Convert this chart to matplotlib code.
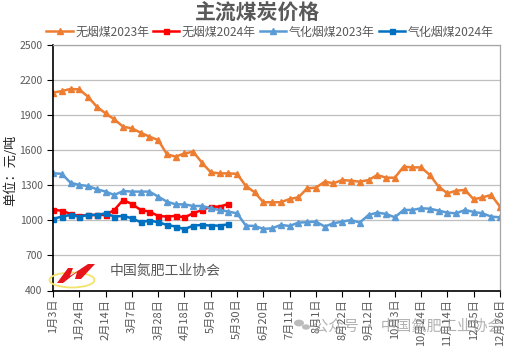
import matplotlib
matplotlib.use("Agg")
import matplotlib.pyplot as plt
from matplotlib.patches import Ellipse, Polygon, Circle

plt.rcParams['font.family'] = ['Noto Sans CJK SC', 'DejaVu Sans']

title = "主流煤炭价格"
ylabel = "单位：元/吨"
tick_labels = ["1月3日", "1月24日", "2月14日", "3月7日", "3月28日", "4月18日", "5月9日",
               "5月30日", "6月20日", "7月11日", "8月1日", "8月22日", "9月12日", "10月3日",
               "10月24日", "11月14日", "12月5日", "12月26日"]
series_names = ["无烟煤2023年", "无烟煤2024年", "气化烟煤2023年", "气化烟煤2024年"]

anthracite_2023 = [2092, 2106, 2124, 2120, 2057, 1972, 1915, 1864, 1801, 1787,
                   1750, 1716, 1687, 1565, 1545, 1573, 1587, 1493, 1411, 1402,
                   1402, 1398, 1294, 1240, 1155, 1155, 1155, 1183, 1197, 1274,
                   1280, 1331, 1317, 1345, 1339, 1331, 1345, 1388, 1365, 1365,
                   1459, 1453, 1453, 1388, 1288, 1231, 1254, 1260, 1180, 1197,
                   1217, 1117]
anthracite_2024 = [1089, 1083, 1055, 1038, 1046, 1046, 1046, 1089, 1174, 1140,
                   1089, 1075, 1038, 1032, 1038, 1026, 1060, 1089, 1117, 1117,
                   1140]
gas_2023 = [1403, 1398, 1322, 1303, 1294, 1266, 1246, 1217, 1251, 1246,
            1246, 1246, 1203, 1160, 1137, 1137, 1123, 1123, 1103, 1089,
            1075, 1060, 955, 952, 927, 932, 961, 952, 981, 984,
            989, 947, 975, 989, 1003, 981, 1046, 1066, 1055, 1026,
            1089, 1089, 1103, 1100, 1083, 1066, 1060, 1089, 1072, 1060,
            1032, 1026]
gas_2024 = [1012, 1032, 1046, 1032, 1046, 1046, 1060, 1032, 1038, 1018,
            984, 998, 984, 961, 947, 924, 955, 961, 955, 955,
            966]

colors = ["#ED7D31", "#FF0000", "#5B9BD5", "#0070C0"]
markers = ["^", "s", "^", "s"]
data = [anthracite_2023, anthracite_2024, gas_2023, gas_2024]

W, H = 514, 348
def fx(x): return x / W
def fy(y): return 1 - y / H

fig = plt.figure(figsize=(5.14, 3.48), dpi=100)
ax = fig.add_axes([fx(53), fy(290.5), 447 / W, 245.5 / H])

for name, vals, c, m in zip(series_names, data, colors, markers):
    ax.plot(range(len(vals)), vals, color=c, marker=m, lw=1.8,
            markersize=4.2 if m == "^" else 3.6, label=name)

ax.set_xlim(0, 51)
ax.set_ylim(400, 2500)
ax.set_yticks(range(400, 2501, 300))
ax.set_xticks(range(0, 52, 3))
ax.set_xticklabels(tick_labels, rotation=90, fontsize=8, color="#595959")
ax.tick_params(axis='y', labelsize=7.5, colors="#595959", length=4, direction='out')
ax.tick_params(axis='x', length=4, direction='out', pad=2)
for lab in ax.get_yticklabels():
    lab.set_color("#595959")
ax.grid(axis='y', color="#BFBFBF", lw=0.9)
ax.set_axisbelow(True)
for s in ['left', 'bottom']:
    ax.spines[s].set_color('black')
    ax.spines[s].set_linewidth(1.2)
for s in ['top', 'right']:
    ax.spines[s].set_color('#A6A6A6')
    ax.spines[s].set_linewidth(0.9)
ax.tick_params(axis='both', color='black')

fig.text(0.5, fy(13), title, ha='center', va='center', fontsize=15,
         color="#595959", fontweight='bold')
fig.legend(loc='center', bbox_to_anchor=(0.525, fy(32)), ncol=4, frameon=False,
           fontsize=8.6, handlelength=2.2, columnspacing=0.35, handletextpad=0.2,
           labelcolor="#595959", borderaxespad=0, borderpad=0)
fig.text(fx(11), fy(170), ylabel, rotation=90, ha='center', va='center',
         fontsize=9.5, color="#222222")

# logo
fig.patches.append(Ellipse((fx(72), fy(280)), 45 / W, 15 / H,
                           transform=fig.transFigure, fill=False,
                           edgecolor="#F2E36B", lw=1.3))
logo_pts = [(57, 283), (68, 268), (73, 268), (70, 276), (88, 264), (95, 264),
            (81, 279), (75, 279), (77, 272), (63, 283)]
fig.patches.append(Polygon([(fx(a), fy(b)) for a, b in logo_pts], closed=True,
                           transform=fig.transFigure, facecolor="#E8141B",
                           edgecolor="none"))
fig.text(fx(110), fy(271), "中国氮肥工业协会", ha='left', va='center',
         fontsize=10, color="#595959")

# watermark
fig.patches.append(Circle((fx(299), fy(323)), 5 / W, transform=fig.transFigure,
                          facecolor="#A0A0A0", edgecolor="none", alpha=0.7, zorder=10))
fig.patches.append(Circle((fx(306), fy(327)), 4 / W, transform=fig.transFigure,
                          facecolor="#A0A0A0", edgecolor="none", alpha=0.7, zorder=10))
fig.text(fx(313), fy(326), "公众号 · 中国氮肥工业协会", ha='left', va='center',
         fontsize=11, color="#9A9A9A", alpha=0.75, zorder=10)

fig.savefig("out.png", dpi=100)
